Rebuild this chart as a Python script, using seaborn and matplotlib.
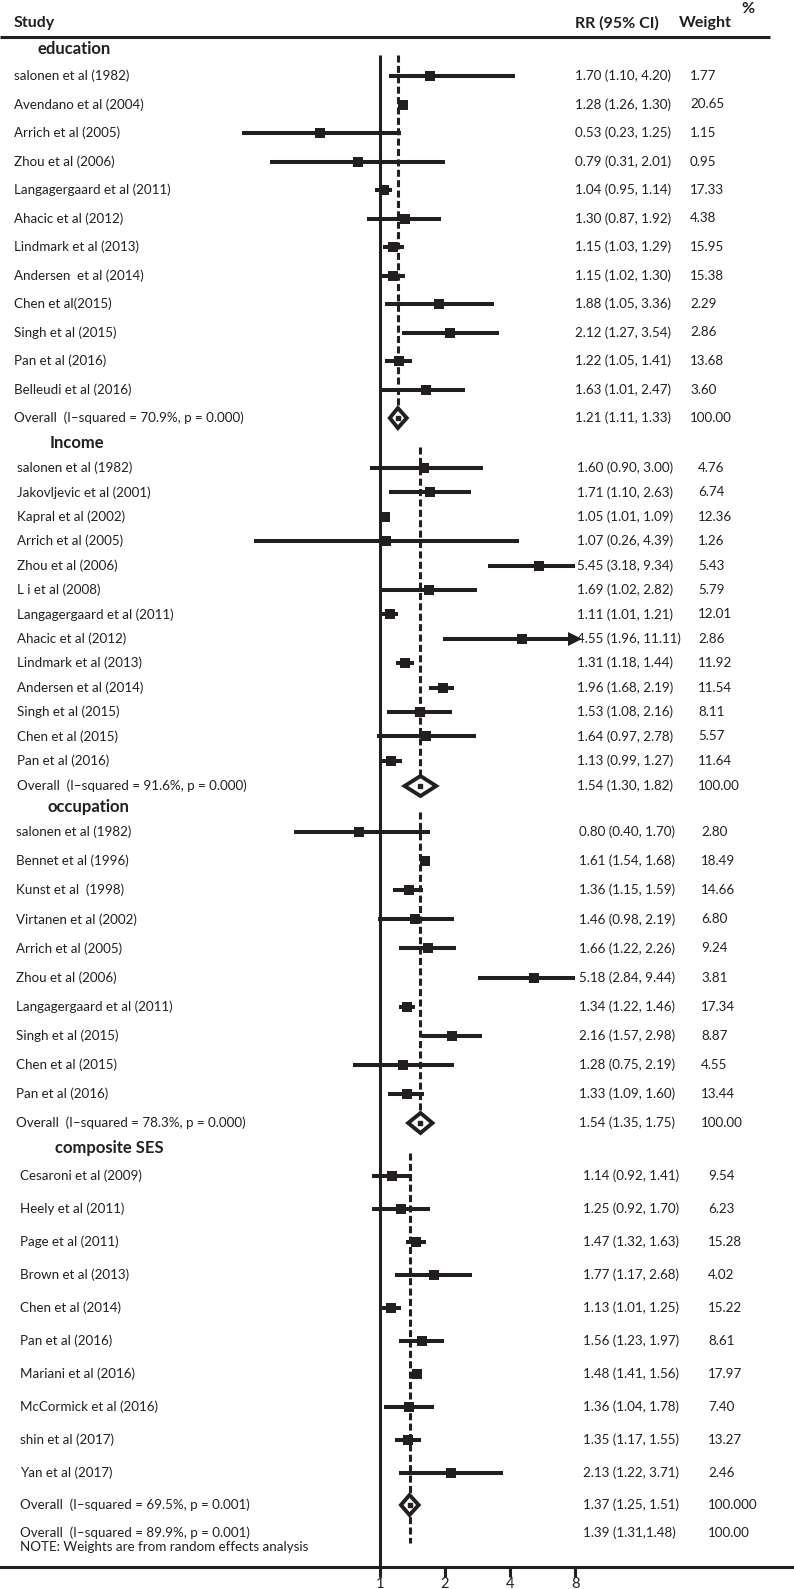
import matplotlib

matplotlib.use("Agg")

import matplotlib.pyplot as plt
import matplotlib.transforms as mtransforms
import pandas as pd
import seaborn as sns

# ---------------------------------------------------------------- data
EDU_STUDY = [
    "salonen et al (1982)", "Avendano et al (2004)", "Arrich et al (2005)",
    "Zhou et al (2006)", "Langagergaard et al (2011)", "Ahacic et al (2012)",
    "Lindmark et al (2013)", "Andersen  et al (2014)", "Chen et al(2015)",
    "Singh et al (2015)", "Pan et al (2016)", "Belleudi et al (2016)",
]
EDU_RR = [1.70, 1.28, 0.53, 0.79, 1.04, 1.30, 1.15, 1.15, 1.88, 2.12, 1.22, 1.63]
EDU_LO = [1.10, 1.26, 0.23, 0.31, 0.95, 0.87, 1.03, 1.02, 1.05, 1.27, 1.05, 1.01]
EDU_HI = [4.20, 1.30, 1.25, 2.01, 1.14, 1.92, 1.29, 1.30, 3.36, 3.54, 1.41, 2.47]
EDU_WT = ["1.77", "20.65", "1.15", "0.95", "17.33", "4.38", "15.95", "15.38",
          "2.29", "2.86", "13.68", "3.60"]
EDU_OVERALL = [1.21, 1.11, 1.33]
EDU_HET = ["70.9%", "0.000", "100.00"]

INC_STUDY = [
    "salonen et al (1982)", "Jakovljevic et al (2001)", "Kapral et al (2002)",
    "Arrich et al (2005)", "Zhou et al (2006)", "L i et al (2008)",
    "Langagergaard et al (2011)", "Ahacic et al (2012)", "Lindmark et al (2013)",
    "Andersen et al (2014)", "Singh et al (2015)", "Chen et al (2015)",
    "Pan et al (2016)",
]
INC_RR = [1.60, 1.71, 1.05, 1.07, 5.45, 1.69, 1.11, 4.55, 1.31, 1.96, 1.53, 1.64, 1.13]
INC_LO = [0.90, 1.10, 1.01, 0.26, 3.18, 1.02, 1.01, 1.96, 1.18, 1.68, 1.08, 0.97, 0.99]
INC_HI = [3.00, 2.63, 1.09, 4.39, 9.34, 2.82, 1.21, 11.11, 1.44, 2.19, 2.16, 2.78, 1.27]
INC_WT = ["4.76", "6.74", "12.36", "1.26", "5.43", "5.79", "12.01", "2.86",
          "11.92", "11.54", "8.11", "5.57", "11.64"]
INC_OVERALL = [1.54, 1.30, 1.82]
INC_HET = ["91.6%", "0.000", "100.00"]

OCC_STUDY = [
    "salonen et al (1982)", "Bennet et al (1996)", "Kunst et al  (1998)",
    "Virtanen et al (2002)", "Arrich et al (2005)", "Zhou et al (2006)",
    "Langagergaard et al (2011)", "Singh et al (2015)", "Chen et al (2015)",
    "Pan et al (2016)",
]
OCC_RR = [0.80, 1.61, 1.36, 1.46, 1.66, 5.18, 1.34, 2.16, 1.28, 1.33]
OCC_LO = [0.40, 1.54, 1.15, 0.98, 1.22, 2.84, 1.22, 1.57, 0.75, 1.09]
OCC_HI = [1.70, 1.68, 1.59, 2.19, 2.26, 9.44, 1.46, 2.98, 2.19, 1.60]
OCC_WT = ["2.80", "18.49", "14.66", "6.80", "9.24", "3.81", "17.34", "8.87",
          "4.55", "13.44"]
OCC_OVERALL = [1.54, 1.35, 1.75]
OCC_HET = ["78.3%", "0.000", "100.00"]

SES_STUDY = [
    "Cesaroni et al (2009)", "Heely et al (2011)", "Page et al (2011)",
    "Brown et al (2013)", "Chen et al (2014)", "Pan et al (2016)",
    "Mariani et al (2016)", "McCormick et al (2016)", "shin et al (2017)",
    "Yan et al (2017)",
]
SES_RR = [1.14, 1.25, 1.47, 1.77, 1.13, 1.56, 1.48, 1.36, 1.35, 2.13]
SES_LO = [0.92, 0.92, 1.32, 1.17, 1.01, 1.23, 1.41, 1.04, 1.17, 1.22]
SES_HI = [1.41, 1.70, 1.63, 2.68, 1.25, 1.97, 1.56, 1.78, 1.55, 3.71]
SES_WT = ["9.54", "6.23", "15.28", "4.02", "15.22", "8.61", "17.97", "7.40",
          "13.27", "2.46"]
SES_OVERALL = [1.37, 1.25, 1.51]
SES_HET = ["69.5%", "0.001", "100.000"]

TOTAL_HET = ["89.9%", "0.001", "100.00"]
TOTAL_RR_TEXT = "1.39 (1.31,1.48)"
NOTE = "NOTE: Weights are from random effects analysis"

GROUPS = ["education", "Income", "occupation", "composite SES"]
XTICKS = [1, 2, 4, 8]

# ---------------------------------------------------------------- layout
W_PX, H_PX, DPI = 794, 1589, 100
X_ONE = 380          # pixel column of RR = 1
PX_PER_DOUBLING = 65
CLIP = 8             # CIs are cut here
ARROW_ABOVE = 10     # ... and get an arrowhead when the upper limit is past this
INK = "#231f20"
FONT = ["Lato", "DejaVu Sans"]
FS = 9.6
FS_HEAD = 12
FS_TOP = 11.5
LINE_LW = 2.2
CI_LW = 2.9
DIAMOND_H = 10
DASHES = (0, (2.3, 1.1))

# per section: heading x/y, label x, first row y, row step, overall y, RR x, weight x
LAYOUT = [
    dict(hx=38, hy=49, lx=14, y0=76, step=28.5, oy=418, rx=575, wx=690, dash_top=55),
    dict(hx=50, hy=443, lx=17, y0=468, step=24.4, oy=786, rx=577, wx=698, dash_top=447),
    dict(hx=48, hy=807, lx=16, y0=832, step=29.1, oy=1123, rx=579, wx=701, dash_top=812),
    dict(hx=55, hy=1148, lx=20, y0=1176, step=33.0, oy=1505, rx=583, wx=708, dash_top=1153),
]
TOTAL_Y, NOTE_Y, AXIS_Y = 1533, 1547, 1567

sections = [
    (EDU_STUDY, EDU_RR, EDU_LO, EDU_HI, EDU_WT, EDU_OVERALL, EDU_HET),
    (INC_STUDY, INC_RR, INC_LO, INC_HI, INC_WT, INC_OVERALL, INC_HET),
    (OCC_STUDY, OCC_RR, OCC_LO, OCC_HI, OCC_WT, OCC_OVERALL, OCC_HET),
    (SES_STUDY, SES_RR, SES_LO, SES_HI, SES_WT, SES_OVERALL, SES_HET),
]


def main():
    sns.set_theme(style="white")
    plt.rcParams["font.family"] = FONT

    fig = plt.figure(figsize=(W_PX / DPI, H_PX / DPI), dpi=DPI)
    ax = fig.add_axes([0, 0, 1, 1])
    ax.set_xscale("log", base=2)
    ax.set_xlim(2 ** (-X_ONE / PX_PER_DOUBLING), 2 ** ((W_PX - X_ONE) / PX_PER_DOUBLING))
    ax.set_ylim(H_PX, 0)
    ax.patch.set_alpha(0)

    # x in pixels across the figure, y in row units (pixels from top)
    tr = mtransforms.blended_transform_factory(fig.transFigure, ax.transData)

    def label(x, y, s, **kw):
        kw.setdefault("fontsize", FS)
        kw.setdefault("va", "center")
        ax.text(x / W_PX, y, s, transform=tr, color=INK, **kw)

    # header
    label(14, 23, "Study", fontsize=FS_TOP, fontweight="bold")
    label(575, 23, "RR (95% CI)", fontsize=FS_TOP, fontweight="bold")
    label(679, 23, "Weight", fontsize=FS_TOP, fontweight="bold")
    label(741, 9, "%", fontsize=FS_TOP, fontweight="bold")
    ax.plot([ax.get_xlim()[0], 2 ** ((770 - X_ONE) / PX_PER_DOUBLING)], [37, 37],
            color=INK, lw=LINE_LW, solid_capstyle="butt")

    frames = []
    for group, lay, (study, rr, lo, hi, wt, overall, het) in zip(GROUPS, LAYOUT, sections):
        ys = [lay["y0"] + i * lay["step"] for i in range(len(study))]
        frames.append(pd.DataFrame({"group": group, "study": study, "rr": rr,
                                    "lo": lo, "hi": hi, "y": ys}))

        label(lay["hx"], lay["hy"], group, fontsize=FS_HEAD, fontweight="bold")
        for s, r, l, h, w, y in zip(study, rr, lo, hi, wt, ys):
            label(lay["lx"], y, s)
            label(lay["rx"], y, f"{r:.2f} ({l:.2f}, {h:.2f})")
            label(lay["wx"], y, w)
            ax.hlines(y, l, min(h, CLIP), color=INK, lw=CI_LW, zorder=3)
            if h > ARROW_ABOVE:
                ax.plot(CLIP, y, marker=">", ms=10, color=INK, mew=0, zorder=3)

        # overall diamond
        o_rr, o_lo, o_hi = overall
        oy = lay["oy"]
        label(lay["lx"], oy, f"Overall  (I\u2013squared = {het[0]}, p = {het[1]})")
        label(lay["rx"], oy, f"{o_rr:.2f} ({o_lo:.2f}, {o_hi:.2f})")
        label(lay["wx"], oy, het[2])
        ax.fill([o_lo, o_rr, o_hi, o_rr], [oy, oy - DIAMOND_H, oy, oy + DIAMOND_H],
                facecolor="white", edgecolor=INK, lw=LINE_LW + 0.6, zorder=5)
        ax.plot(o_rr, oy, marker="s", ms=2.5, color=INK, zorder=6)

        dash_bottom = NOTE_Y - 4 if group == GROUPS[-1] else oy + 3
        ax.plot([o_rr, o_rr], [lay["dash_top"], dash_bottom], color=INK,
                lw=LINE_LW, linestyle=DASHES, zorder=2)

    df = pd.concat(frames, ignore_index=True)
    sns.scatterplot(data=df, x="rr", y="y", marker="s", s=60, color=INK,
                    linewidth=0, legend=False, ax=ax, zorder=4)

    # pooled estimate over all groups
    last = LAYOUT[-1]
    label(last["lx"], TOTAL_Y, f"Overall  (I\u2013squared = {TOTAL_HET[0]}, p = {TOTAL_HET[1]})")
    label(last["lx"], NOTE_Y, NOTE)
    label(last["rx"], TOTAL_Y, TOTAL_RR_TEXT)
    label(last["wx"], TOTAL_Y, TOTAL_HET[2])

    # null line
    ax.vlines(1, 55, AXIS_Y, color=INK, lw=LINE_LW, zorder=2)

    # bottom axis
    for side in ["top", "left", "right"]:
        ax.spines[side].set_visible(False)
    ax.spines["bottom"].set_position(("data", AXIS_Y))
    ax.spines["bottom"].set_linewidth(LINE_LW)
    ax.spines["bottom"].set_color(INK)
    ax.set_xticks(XTICKS)
    ax.set_xticklabels([str(t) for t in XTICKS])
    ax.xaxis.set_minor_locator(matplotlib.ticker.NullLocator())
    ax.tick_params(axis="x", direction="out", length=7, width=LINE_LW, color=INK,
                   labelsize=10.5, labelcolor=INK, pad=0, bottom=True)
    ax.set_yticks([])
    ax.set_xlabel("")
    ax.set_ylabel("")

    fig.savefig("out.png", dpi=DPI)


main()
